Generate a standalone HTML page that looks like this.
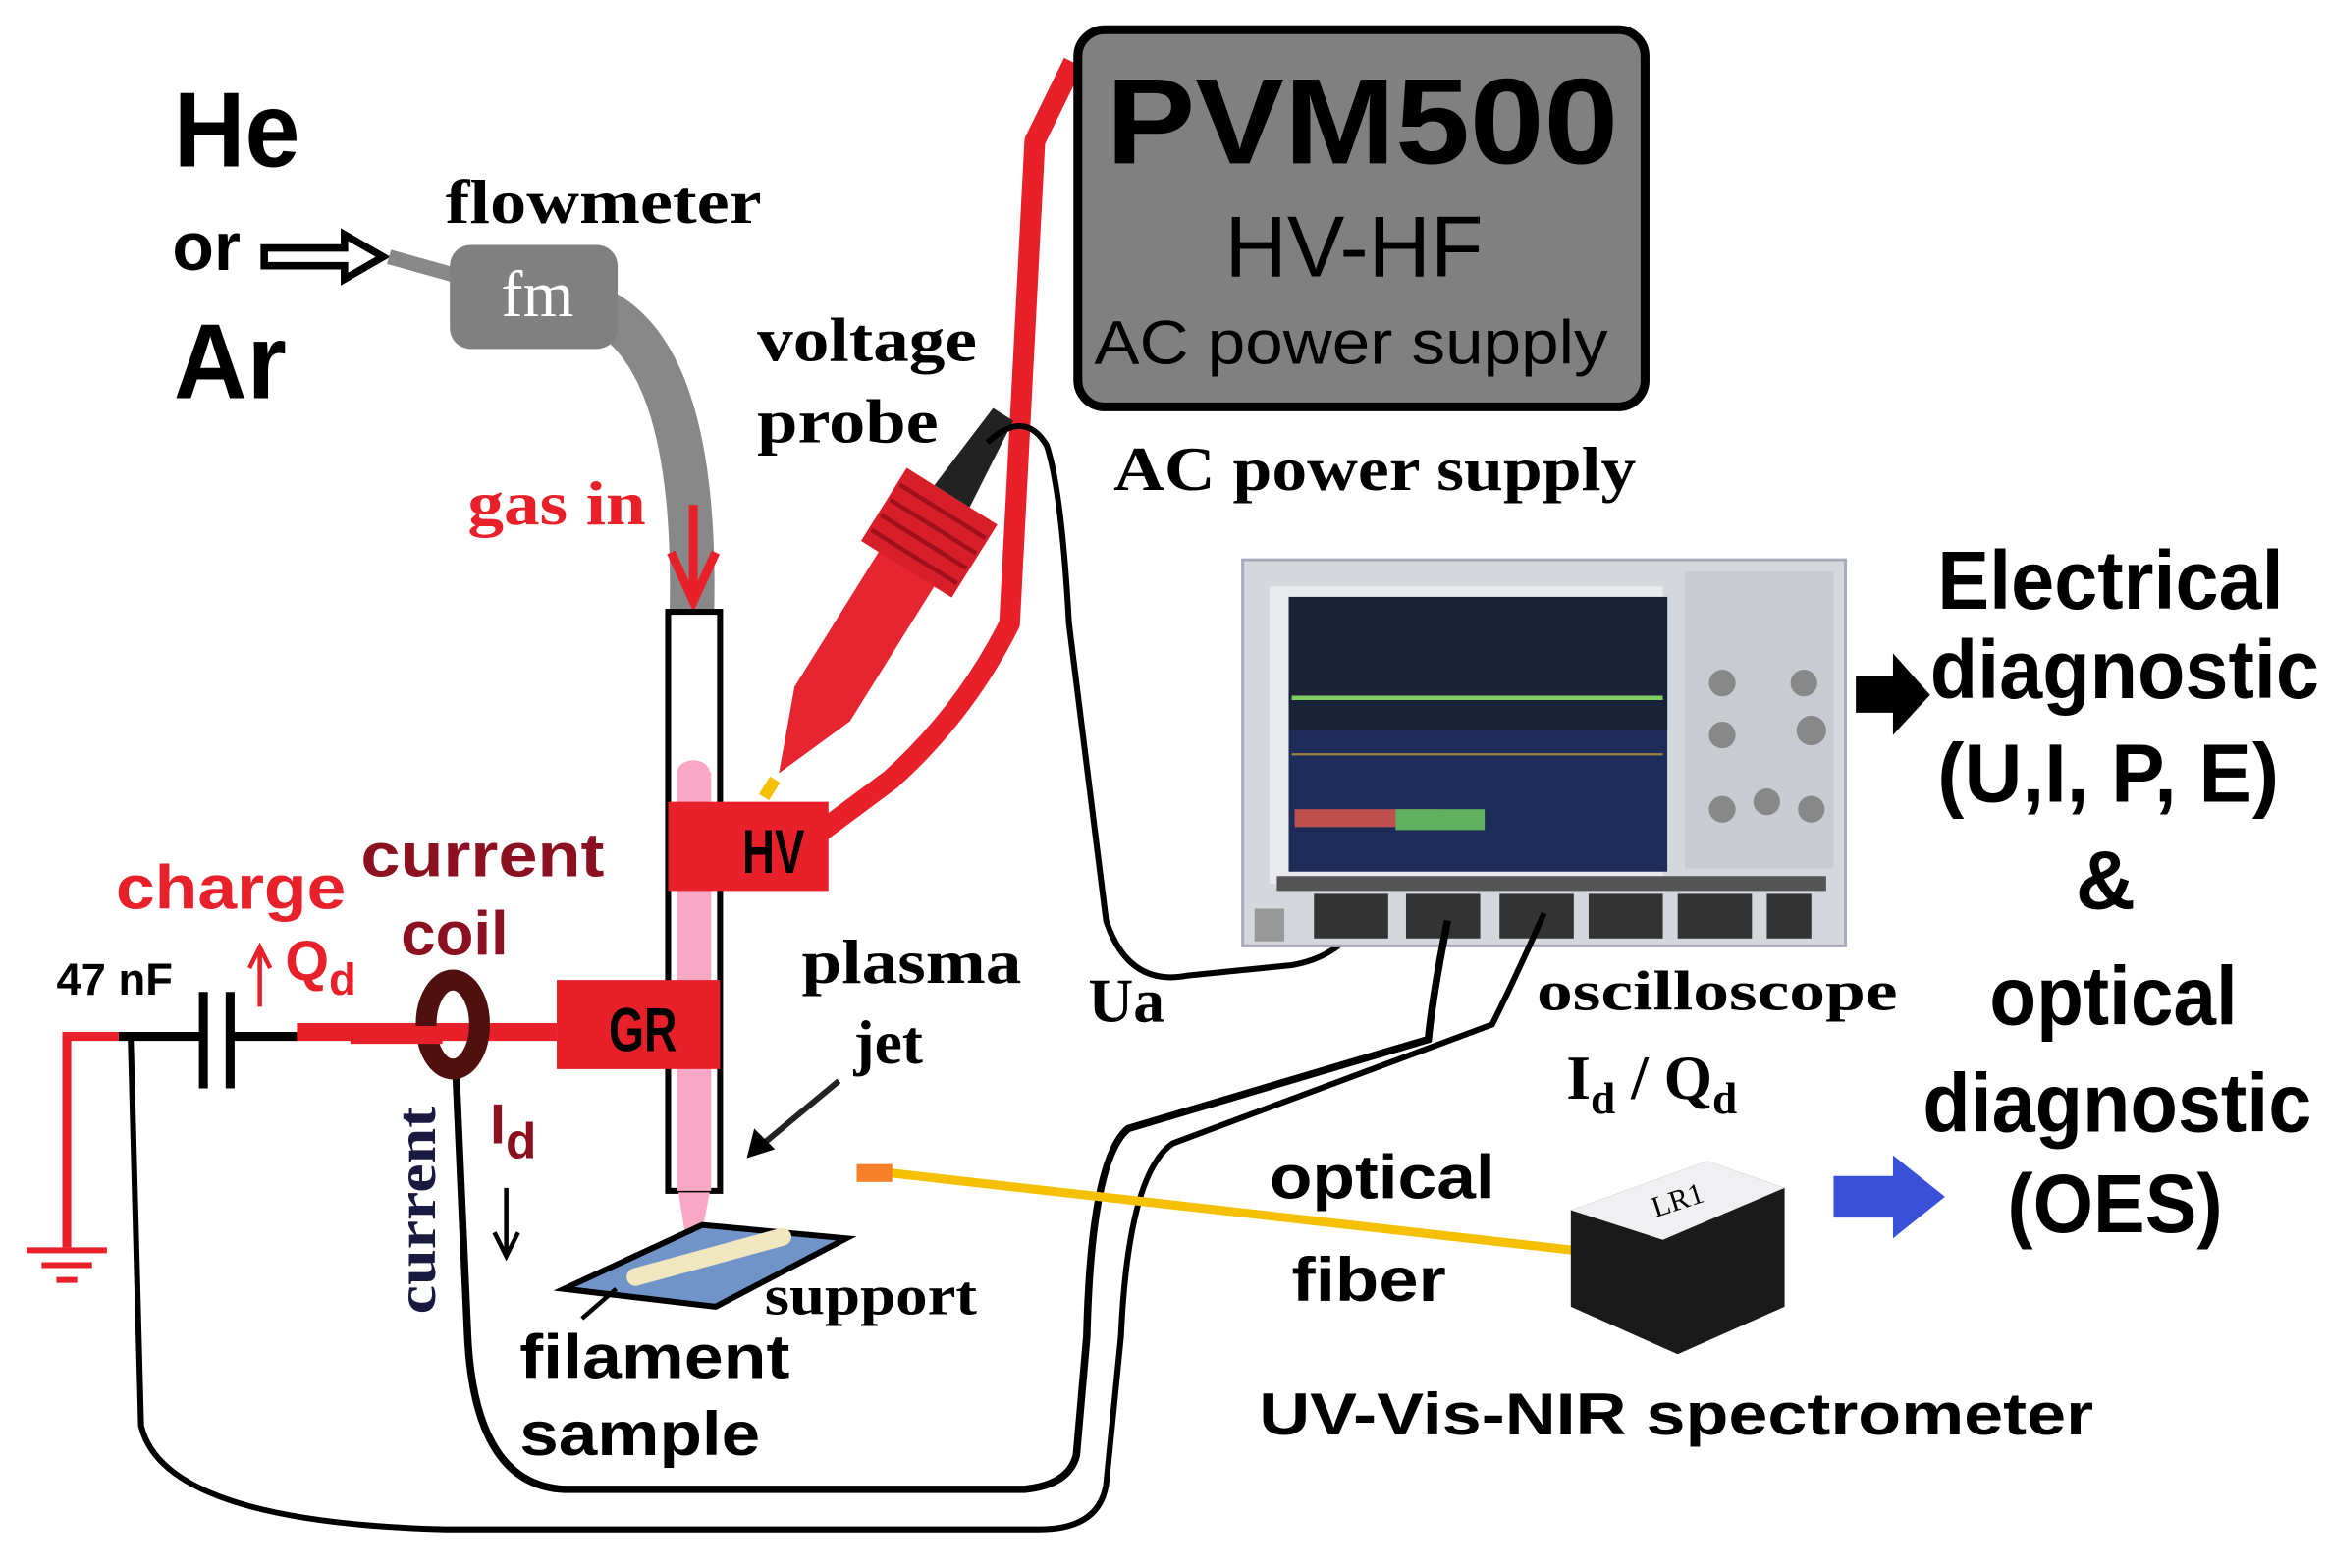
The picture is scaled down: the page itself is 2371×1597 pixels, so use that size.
<!DOCTYPE html>
<html><head><meta charset="utf-8"><style>
html,body{margin:0;padding:0;background:#fff;}
svg{display:block;}
.s{font-family:"Liberation Sans",sans-serif;font-weight:bold;}
.r{font-family:"Liberation Serif",serif;font-weight:bold;}
</style></head><body>
<svg width="2371" height="1597" viewBox="0 0 1568 1056" preserveAspectRatio="none" xmlns="http://www.w3.org/2000/svg">
<rect width="1568" height="1056" fill="#fff"/>
<!-- gas -->
<text x="117" y="112" class="s" font-size="72" textLength="85" lengthAdjust="spacingAndGlyphs">He</text>
<text x="116" y="182" class="s" font-size="46">or</text>
<text x="117" y="268" class="s" font-size="72" textLength="76" lengthAdjust="spacingAndGlyphs">Ar</text>
<path d="M178,167 L232,167 L232,158 L258,173 L232,188 L232,179 L178,179 Z" fill="#fff" stroke="#000" stroke-width="5"/>
<path d="M262,173 L305,185" stroke="#888" stroke-width="10" fill="none"/>
<path d="M395,205 Q470,230 466,412" stroke="#888" stroke-width="30" fill="none"/>
<rect x="303" y="165" width="113" height="70" rx="14" fill="#808080"/>
<text x="362" y="213" font-family="Liberation Serif,serif" font-size="44" fill="#fff" text-anchor="middle">fm</text>
<text x="300" y="150" class="r" font-size="42" textLength="213" lengthAdjust="spacingAndGlyphs">flowmeter</text>
<text x="315" y="353" class="r" font-size="42" fill="#e8202a" textLength="120" lengthAdjust="spacingAndGlyphs">gas in</text>
<path d="M467,340 L467,400 M452,372 L467,405 L482,372" stroke="#e8202a" stroke-width="6" fill="none"/>
<!-- tube -->
<rect x="450" y="412" width="35" height="390" fill="#fff" stroke="#000" stroke-width="4"/>
<rect x="456" y="520" width="23" height="282" fill="#f8a8c4"/>
<ellipse cx="467" cy="520" rx="11" ry="8" fill="#f8a8c4"/>
<path d="M457,803 L478,803 L472,835 Q467,845 462,835 Z" fill="#f8a8c4"/>
<!-- red wire to PVM -->
<path d="M553,560 L600,525 Q650,480 680,420 L697,95 L723,42" stroke="#e8202a" stroke-width="14" fill="none" stroke-linejoin="round"/>
<rect x="450" y="540" width="108" height="60" fill="#e8202a"/>
<text x="500" y="588" class="s" font-size="42" textLength="42" lengthAdjust="spacingAndGlyphs">HV</text>
<rect x="375" y="660" width="110" height="60" fill="#e8202a"/>
<text x="410" y="708" class="s" font-size="42" textLength="46" lengthAdjust="spacingAndGlyphs">GR</text>
<!-- PVM box -->
<rect x="726" y="20" width="382" height="254" rx="18" fill="#808080" stroke="#000" stroke-width="6"/>
<text x="745" y="110" class="s" font-size="82" textLength="345" lengthAdjust="spacingAndGlyphs">PVM500</text>
<text x="912" y="186" font-family="Liberation Sans,sans-serif" font-size="58" text-anchor="middle">HV-HF</text>
<text x="737" y="245" font-family="Liberation Sans,sans-serif" font-size="42" textLength="346" lengthAdjust="spacingAndGlyphs">AC power supply</text>
<!-- probe -->
<text x="510" y="243" class="r" font-size="42" textLength="148" lengthAdjust="spacingAndGlyphs">voltage</text>
<text x="510" y="298" class="r" font-size="42" textLength="122" lengthAdjust="spacingAndGlyphs">probe</text>
<g transform="translate(522,525) rotate(32)">
<path d="M-4,0 L4,0 L4,14 L-4,14 Z" fill="#f5c000"/>
<path d="M0,-5 L-22,-60 L-22,-170 L22,-170 L22,-60 Z" fill="#e62530"/>
<rect x="-36" y="-225" width="72" height="58" fill="#d81e28"/>
<path d="M-34,-213 H34 M-34,-201 H34 M-34,-189 H34 M-34,-177 H34" stroke="#a0101a" stroke-width="3"/>
<path d="M-14,-225 L-8,-290 L8,-290 L14,-225 Z" fill="#222"/>
</g>
<path d="M665,298 Q690,275 705,300 Q715,330 720,420 L745,620 Q760,665 800,657 L870,650 Q900,645 915,622" stroke="#000" stroke-width="4" fill="none"/>
<text x="750" y="330" class="r" font-size="42" textLength="352" lengthAdjust="spacingAndGlyphs">AC power supply</text>
<text x="733" y="688" class="r" font-size="42">Ua</text>
<!-- oscilloscope -->
<rect x="837" y="377" width="406" height="260" fill="#d4d8dc" stroke="#aab" stroke-width="2"/>
<rect x="855" y="395" width="265" height="200" fill="#e8eaee"/>
<rect x="868" y="402" width="255" height="185" fill="#1e2c5a"/>
<rect x="868" y="402" width="255" height="90" fill="#1a2238"/>
<line x1="870" y1="470" x2="1120" y2="470" stroke="#7fcf60" stroke-width="3"/>
<line x1="870" y1="508" x2="1120" y2="508" stroke="#a08040" stroke-width="1.5"/>
<rect x="872" y="545" width="100" height="12" fill="#c05050"/>
<rect x="940" y="545" width="60" height="14" fill="#60b060"/>
<rect x="1135" y="385" width="100" height="200" fill="#c8ccd0"/>
<g fill="#888"><circle cx="1160" cy="460" r="9"/><circle cx="1215" cy="460" r="9"/><circle cx="1160" cy="495" r="9"/><circle cx="1220" cy="492" r="10"/><circle cx="1160" cy="545" r="9"/><circle cx="1190" cy="540" r="9"/><circle cx="1220" cy="545" r="9"/></g>
<rect x="860" y="590" width="370" height="10" fill="#555"/>
<g fill="#333"><rect x="885" y="602" width="50" height="30"/><rect x="947" y="602" width="50" height="30"/><rect x="1010" y="602" width="50" height="30"/><rect x="1070" y="602" width="50" height="30"/><rect x="1130" y="602" width="50" height="30"/><rect x="1190" y="602" width="30" height="30"/></g>
<rect x="845" y="612" width="20" height="22" fill="#999"/>
<!-- black loops -->
<path d="M1040,615 Q1020,660 1005,690 L790,770 Q760,790 755,900 L745,1000 Q740,1030 700,1030 L300,1030 Q110,1025 95,960 L88,697" stroke="#000" stroke-width="4" fill="none"/>
<path d="M975,620 Q965,670 962,700 L760,760 Q735,780 732,900 L725,980 Q720,1000 690,1003 L380,1003 Q320,1000 315,900 L307,720" stroke="#000" stroke-width="5" fill="none"/>
<!-- right text -->
<path d="M1250,455 L1275,455 L1275,440 L1300,468 L1275,495 L1275,480 L1250,480 Z" fill="#000"/>
<g class="s" font-size="56">
<text x="1305" y="410" textLength="233" lengthAdjust="spacingAndGlyphs">Electrical</text>
<text x="1300" y="470" textLength="262" lengthAdjust="spacingAndGlyphs">diagnostic</text>
<text x="1305" y="540" textLength="230" lengthAdjust="spacingAndGlyphs">(U,I, P, E)</text>
<text x="1398" y="612">&amp;</text>
<text x="1340" y="690" textLength="167" lengthAdjust="spacingAndGlyphs">optical</text>
<text x="1295" y="762" textLength="262" lengthAdjust="spacingAndGlyphs">diagnostic</text>
<text x="1352" y="830" textLength="145" lengthAdjust="spacingAndGlyphs">(OES)</text>
</g>
<path d="M1235,792 L1275,792 L1275,778 L1310,806 L1275,834 L1275,820 L1235,820 Z" fill="#3a50d8"/>
<text x="1035" y="680" class="r" font-size="38" textLength="243" lengthAdjust="spacingAndGlyphs">oscilloscope</text>
<text x="1055" y="740" class="r" font-size="42">I<tspan font-size="30" dy="10">d</tspan><tspan dy="-10"> / Q</tspan><tspan font-size="30" dy="10">d</tspan></text>
<!-- fiber and spectrometer -->
<path d="M600,790 L1060,842" stroke="#f5c000" stroke-width="6"/>
<rect x="577" y="784" width="24" height="12" fill="#f5802a"/>
<text x="855" y="807" class="s" font-size="42" textLength="152" lengthAdjust="spacingAndGlyphs">optical</text>
<text x="870" y="876" class="s" font-size="42" textLength="104" lengthAdjust="spacingAndGlyphs">fiber</text>
<path d="M1058,815 L1150,782 L1202,800 L1202,880 L1130,912 L1058,880 Z" fill="#1a1a1a"/>
<path d="M1058,815 L1150,782 L1202,800 L1120,835 Z" fill="#f0f0f2"/>
<text x="1115" y="820" font-family="Liberation Serif,serif" font-size="20" transform="rotate(-18 1115 820)">LR1</text>
<text x="848" y="966" class="s" font-size="40" textLength="562" lengthAdjust="spacingAndGlyphs">UV-Vis-NIR spectrometer</text>
<!-- plasma jet -->
<text x="540" y="662" class="r" font-size="42" textLength="148" lengthAdjust="spacingAndGlyphs">plasma</text>
<text x="575" y="716" class="r" font-size="42">jet</text>
<path d="M565,728 L512,772" stroke="#222" stroke-width="4"/>
<path d="M503,780 L508,760 L522,774 Z" fill="#000"/>
<path d="M380,868 L473,825 L570,834 L482,880 Z" fill="#7094c8" stroke="#000" stroke-width="4"/>
<path d="M428,860 L527,833" stroke="#f0e6c0" stroke-width="12" stroke-linecap="round"/>
<text x="515" y="885" class="r" font-size="38" textLength="143" lengthAdjust="spacingAndGlyphs">support</text>
<path d="M392,888 L415,868" stroke="#000" stroke-width="3"/>
<text x="350" y="928" class="s" font-size="42" textLength="182" lengthAdjust="spacingAndGlyphs">filament</text>
<text x="350" y="980" class="s" font-size="42" textLength="162" lengthAdjust="spacingAndGlyphs">sample</text>
<!-- circuit -->
<text x="38" y="670" class="s" font-size="30">47 nF</text>
<path d="M45,698 L80,698 M45,695 L45,840" stroke="#e8202a" stroke-width="6" fill="none"/>
<path d="M18,842 H72 M28,852 H62 M38,862 H52" stroke="#e8202a" stroke-width="4"/>
<path d="M80,698 L137,698 M155,698 L200,698" stroke="#000" stroke-width="6"/>
<path d="M137,668 V733 M155,668 V733" stroke="#000" stroke-width="6"/>
<path d="M200,695 L375,695" stroke="#e8202a" stroke-width="12"/>
<ellipse cx="305" cy="690" rx="18" ry="30" fill="none" stroke="#501010" stroke-width="14"/>
<path d="M236,697 L298,697" stroke="#e8202a" stroke-width="12"/>
<text x="78" y="612" class="s" font-size="42" fill="#e8202a" textLength="155" lengthAdjust="spacingAndGlyphs">charge</text>
<path d="M175,678 V640 M168,652 L175,638 L182,652" stroke="#e8202a" stroke-width="3" fill="none"/>
<text x="192" y="660" class="s" font-size="38" fill="#e8202a">Q<tspan font-size="30" dy="10">d</tspan></text>
<text x="243" y="590" class="s" font-size="42" fill="#8b1020" textLength="164" lengthAdjust="spacingAndGlyphs">current</text>
<text x="270" y="643" class="s" font-size="42" fill="#8b1020">coil</text>
<text x="330" y="770" class="s" font-size="38" fill="#8b1020">I<tspan font-size="34" dy="10">d</tspan></text>
<path d="M341,800 V845 M333,830 L341,846 L349,830" stroke="#000" stroke-width="3" fill="none"/>
<text transform="translate(293,885) rotate(-90)" class="r" font-size="38" fill="#1a1a40" textLength="140" lengthAdjust="spacingAndGlyphs">current</text>
</svg>
</body></html>
